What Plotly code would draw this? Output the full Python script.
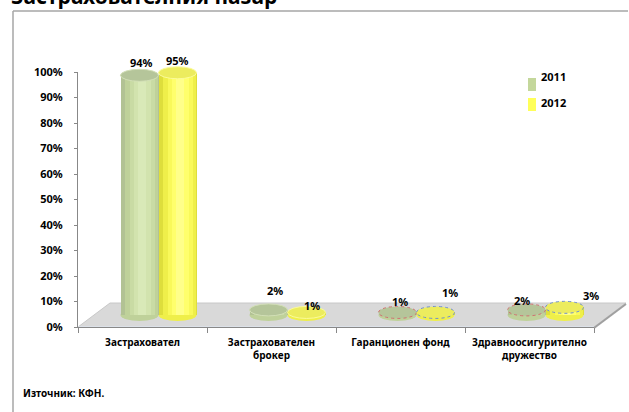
import plotly.graph_objects as go

# ---------------- data ----------------
categories = ["Застраховател", "Застрахователен<br>брокер", "Гаранционен фонд",
              "Здравноосигурително<br>дружество"]
series_names = ["2011", "2012"]
values_2011 = [94, 2, 1, 2]
values_2012 = [95, 1, 1, 3]
title_text = "Застрахователния пазар"
source_text = "Източник: КФН."
y_ticks = [0, 10, 20, 30, 40, 50, 60, 70, 80, 90, 100]
y_tick_labels = [f"{v}%" for v in y_ticks]

# ---------------- geometry / style ----------------
W, H = 629, 412
ML, MR, MT, MB = 78, 35, 40, 85
PW, PH = W - ML - MR, H - MT - MB
PX_PER_Y = 2.55                  # pixels per 1 % on value axis
Y_MAIN_TOP = 100 * PX_PER_Y / PH  # domain top of visible value axis
DX, DY = 16, 12                  # half depth shift of 3D look (px)
UNIT_PX = PW / 4.0               # px per category
BAR_W = 38 / UNIT_PX             # bar width in category units
X_SHIFT = DX / UNIT_PX
Y_LOW = -DY / PX_PER_Y
Y_HIGH = Y_LOW + PH / PX_PER_Y
ELL_H = 6 / PX_PER_Y

def px_x(p):
    return (p - ML) / PW

def px_y(p):
    return (H - MB - p) / PH

FONT = "Noto Sans"

styles = {
    "2011": dict(offset=-BAR_W / 2,
                 layers=[(1.00, 0.00, "#b2c294"), (0.86, 0.05, "#bfd19a"),
                         (0.66, 0.08, "#c9dba4"), (0.44, 0.08, "#d2e3ae"),
                         (0.22, 0.07, "#d9e9b8")],
                 top="#b5c59a", top_line="#d2dfb6", bottom="#bfd19a",
                 outline="#d07070", legend="#c4d79b"),
    "2012": dict(offset=BAR_W / 2,
                 layers=[(1.00, 0.00, "#dede3c"), (0.86, 0.05, "#efef4a"),
                         (0.66, 0.08, "#f9f95a"), (0.44, 0.08, "#ffff6c"),
                         (0.22, 0.07, "#ffff8a")],
                 top="#ecec5e", top_line="#fbfb9a", bottom="#efef4a",
                 outline="#6f8fd0", legend="#ffff59"),
}
label_shifts = {
    "2011": [(1.5, 13), (6.5, 19), (2.5, 10.5), (-4.5, 9)],
    "2012": [(-0.5, 12.5), (5.5, 6.5), (14.5, 19.5), (26.5, 11.5)],
}

fig = go.Figure()

# invisible trace to establish the category axis
fig.add_trace(go.Bar(x=categories, y=[0] * len(categories), marker_color="rgba(0,0,0,0)",
                     showlegend=False, hoverinfo="skip", xaxis="x", yaxis="y"))

shapes = []
annotations = []

# floor of the 3D plot area
shapes.append(dict(type="path", xref="paper", yref="paper", layer="below",
                   path=f"M {px_x(78)},{px_y(327)} L {px_x(594)},{px_y(327)} "
                        f"L {px_x(626)},{px_y(303)} L {px_x(110)},{px_y(303)} Z",
                   fillcolor="#d9d9d9", line=dict(color="#c8c8c8", width=1)))
shapes.append(dict(type="line", xref="paper", yref="paper", layer="below",
                   x0=px_x(594), y0=px_y(328), x1=px_x(626), y1=px_y(304),
                   line=dict(color="#a0a0a0", width=2)))

for name, vals in zip(series_names, [values_2011, values_2012]):
    st = styles[name]
    for f, c, col in st["layers"]:
        fig.add_trace(go.Bar(
            x=[i + st["offset"] + c * BAR_W for i in range(len(vals))],
            y=vals, width=f * BAR_W, marker=dict(color=col, line=dict(width=0)),
            xaxis="x2", yaxis="y2", showlegend=False, hoverinfo="skip"))
    for i, v in enumerate(vals):
        xc = i + st["offset"]
        shapes.append(dict(type="circle", xref="x2", yref="y2", layer="below",
                           x0=xc - BAR_W / 2, x1=xc + BAR_W / 2,
                           y0=-ELL_H, y1=ELL_H,
                           fillcolor=st["bottom"], line=dict(width=0)))
        line = dict(color=st["top_line"], width=1)
        if i >= 2:
            line = dict(color=st["outline"], width=1, dash="dot")
        shapes.append(dict(type="circle", xref="x2", yref="y2", layer="above",
                           x0=xc - BAR_W / 2, x1=xc + BAR_W / 2,
                           y0=v - ELL_H, y1=v + ELL_H,
                           fillcolor=st["top"], line=line))
        sx, sy = label_shifts[name][i]
        annotations.append(dict(xref="x2", yref="y2", x=xc, y=v, text=f"{v}%",
                                showarrow=False, xshift=sx, yshift=sy,
                                font=dict(family=FONT, size=11, color="#000000",
                                          weight="bold")))

# legend (manual, to match swatch shape and spacing)
for name, (top_px, text_px) in zip(series_names, [(78, 76), (98, 102)]):
    st = styles[name]
    shapes.append(dict(type="rect", xref="paper", yref="paper",
                       x0=px_x(528), x1=px_x(536), y0=px_y(top_px + 13), y1=px_y(top_px),
                       fillcolor=st["legend"], line=dict(width=0)))
    annotations.append(dict(xref="paper", yref="paper", x=px_x(539), y=px_y(text_px),
                            xanchor="left", yanchor="middle", text=name, showarrow=False,
                            font=dict(family=FONT, size=11, color="#000000", weight="bold")))

# outer frame
shapes.append(dict(type="line", xref="paper", yref="paper", x0=px_x(13), x1=px_x(13),
                   y0=px_y(11), y1=px_y(420), line=dict(color="#a6a6a6", width=1.5)))
shapes.append(dict(type="line", xref="paper", yref="paper", x0=px_x(13), x1=px_x(628),
                   y0=px_y(11), y1=px_y(11), line=dict(color="#a6a6a6", width=1.5)))

# title (cut off at the top as in the original)
annotations.append(dict(xref="paper", yref="paper", x=px_x(9), y=px_y(12),
                        xanchor="left", yanchor="bottom", text=title_text, showarrow=False,
                        font=dict(family=FONT, size=21, color="#000000", weight="bold")))
# source
annotations.append(dict(xref="paper", yref="paper", x=px_x(21), y=px_y(393),
                        xanchor="left", yanchor="middle", text=source_text, showarrow=False,
                        font=dict(family=FONT, size=10, color="#000000", weight="bold")))

fig.update_layout(
    width=W, height=H,
    margin=dict(l=ML, r=MR, t=MT, b=MB, pad=0),
    paper_bgcolor="#ffffff", plot_bgcolor="rgba(0,0,0,0)",
    barmode="overlay", bargap=0, showlegend=False,
    shapes=shapes, annotations=annotations,
    xaxis=dict(type="category", domain=[0, 1], anchor="y", range=[-0.5, 3.5],
               tickson="boundaries", ticks="outside", ticklen=5, tickcolor="#888888",
               showline=True, linecolor="#888888", linewidth=1, showgrid=False,
               ticklabelstandoff=6,
               tickfont=dict(family=FONT, size=10, color="#000000", weight="bold")),
    yaxis=dict(domain=[0, Y_MAIN_TOP], anchor="x", range=[0, 100], tickmode="array",
               tickvals=y_ticks, ticktext=y_tick_labels,
               ticks="outside", ticklen=3, tickcolor="#888888",
               showline=True, linecolor="#888888", linewidth=1, showgrid=False,
               zeroline=False, ticklabelstandoff=9,
               tickfont=dict(family=FONT, size=11, color="#000000", weight="bold")),
    xaxis2=dict(domain=[0, 1], anchor="y2", range=[-0.5 - X_SHIFT, 3.5 - X_SHIFT],
                visible=False),
    yaxis2=dict(domain=[0, 1], anchor="x2", range=[Y_LOW, Y_HIGH], visible=False),
)

fig.write_html("out.html")
